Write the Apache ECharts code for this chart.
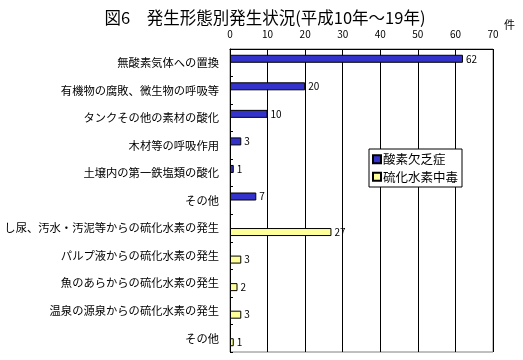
<!DOCTYPE html>
<html><head><meta charset="utf-8">
<script src="https://cdn.jsdelivr.net/npm/echarts@6/dist/echarts.min.js"></script>
<style>html,body{margin:0;padding:0;background:#fff}#c{width:523px;height:360px}</style>
</head><body><div id="c"></div>
<script>
const titleText = '図6　発生形態別発生状況(平成10年～19年)';
const unitText = '件';
const categories = [
  '無酸素気体への置換',
  '有機物の腐敗、微生物の呼吸等',
  'タンクその他の素材の酸化',
  '木材等の呼吸作用',
  '土壌内の第一鉄塩類の酸化',
  'その他',
  'し尿、汚水・汚泥等からの硫化水素の発生',
  'パルプ液からの硫化水素の発生',
  '魚のあらからの硫化水素の発生',
  '温泉の源泉からの硫化水素の発生',
  'その他 '
];
const seriesNames = ['酸素欠乏症', '硫化水素中毒'];
const oxygenValues = [62, 20, 10, 3, 1, 7, '-', '-', '-', '-', '-'];
const h2sValues = ['-', '-', '-', '-', '-', '-', 27, 3, 2, 3, 1];
const xMin = 0, xMax = 70, xStep = 10;

const font = '"Noto Sans CJK JP", sans-serif';
const chart = echarts.init(document.getElementById('c'), null, {renderer: 'canvas'});
const labelStyle = {show: true, position: 'right', distance: 3, fontSize: 10, color: '#000', fontFamily: font};
chart.setOption({
  animation: false,
  backgroundColor: '#fff',
  title: {text: titleText, left: 260, top: 4, textAlign: 'center',
    textStyle: {fontSize: 16.5, fontWeight: 'normal', color: '#000', fontFamily: font}},
  graphic: [{type: 'text', left: 504, top: 19, style: {text: unitText, fontSize: 11, fill: '#000', fontFamily: font}}],
  legend: {
    data: seriesNames, orient: 'vertical', left: 369, top: 149,
    itemWidth: 8, itemHeight: 8, itemGap: 5, padding: [4, 4, 4, 3],
    backgroundColor: '#fff', borderColor: '#000', borderWidth: 1,
    textStyle: {fontSize: 12.5, color: '#000', fontFamily: font, padding: [0, 0, 0, -3]},
    icon: 'rect'
  },
  grid: {left: 230, top: 49, right: 30, bottom: 8, show: true, borderColor: '#808080', borderWidth: 1, backgroundColor: '#fff'},
  xAxis: {type: 'value', position: 'top', min: xMin, max: xMax, interval: xStep,
    axisLine: {show: true, lineStyle: {color: '#000', width: 1}},
    axisTick: {show: false},
    axisLabel: {fontSize: 10, color: '#000', fontFamily: font, margin: 10},
    splitLine: {show: true, lineStyle: {color: '#000', width: 1}}},
  yAxis: {type: 'category', data: categories, inverse: true,
    axisLine: {show: true, lineStyle: {color: '#000', width: 1}},
    axisTick: {show: true, inside: true, length: 3, lineStyle: {color: '#000'}},
    axisLabel: {fontSize: 11.3, color: '#000', fontFamily: font, margin: 11,
      formatter: v => v.trim()}},
  series: [
    {name: seriesNames[0], type: 'bar', data: oxygenValues, barWidth: 8, barGap: '0%',
     itemStyle: {color: '#3333CC', borderColor: '#000', borderWidth: 1}, label: labelStyle},
    {name: seriesNames[1], type: 'bar', data: h2sValues, barWidth: 8, barGap: '0%',
     itemStyle: {color: '#FFFF99', borderColor: '#000', borderWidth: 1}, label: labelStyle}
  ]
});
</script></body></html>
